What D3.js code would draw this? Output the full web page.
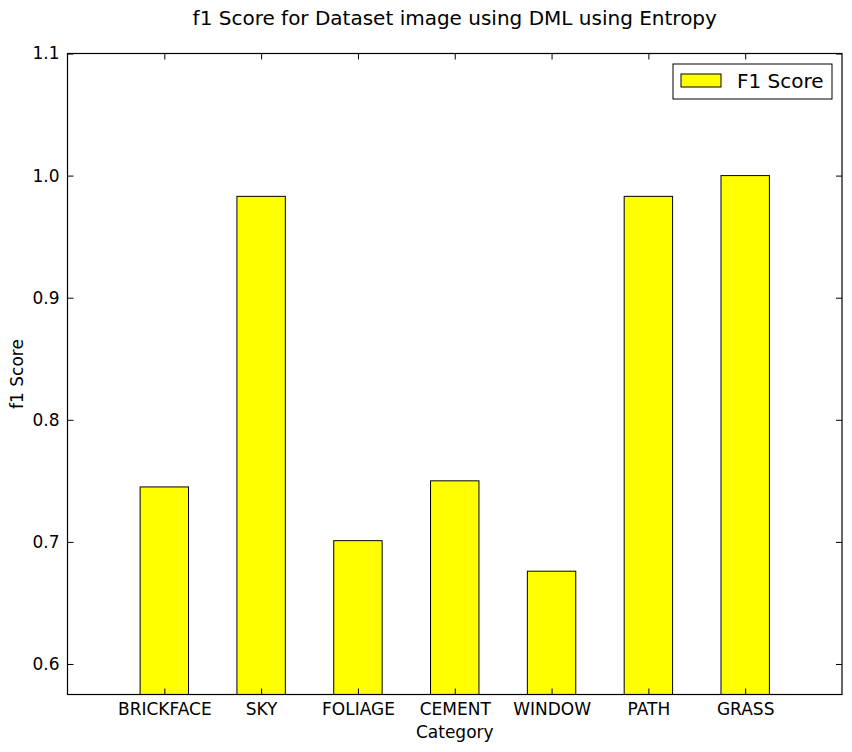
<!DOCTYPE html>
<html>
<head>
<meta charset="utf-8">
<script src="https://cdn.jsdelivr.net/npm/d3@7"></script>
<style>
  body { margin: 0; background: #fff; }
  text { font-family: "DejaVu Sans", sans-serif; fill: #000; }
</style>
</head>
<body>
<script>
const categories = ["BRICKFACE", "SKY", "FOLIAGE", "CEMENT", "WINDOW", "PATH", "GRASS"];
const f1Scores = [0.745, 0.983, 0.701, 0.750, 0.676, 0.983, 1.000];
const yTicks = [0.6, 0.7, 0.8, 0.9, 1.0, 1.1];

const width = 852;
const height = 752;
const margin = { top: 53.5, right: 10, bottom: 57.5, left: 67.5 };
const innerW = width - margin.left - margin.right;
const innerH = height - margin.top - margin.bottom;

const svg = d3.select("body")
    .append("svg")
    .attr("width", width)
    .attr("height", height);

const g = svg.append("g")
    .attr("transform", `translate(${margin.left},${margin.top})`);

// index scale, one unit per category, one unit of padding each side
const x = d3.scaleLinear()
    .domain([-1, categories.length])
    .range([0, innerW]);

const y = d3.scaleLinear()
    .domain([0.575, 1.1])
    .range([innerH, 0]);

const barWidth = x(0.5) - x(0);

// clip so bars stop at the axis bottom
g.append("clipPath").attr("id", "plot")
    .append("rect").attr("width", innerW).attr("height", innerH);

g.append("g")
    .attr("clip-path", "url(#plot)")
    .selectAll("rect")
    .data(f1Scores)
    .enter()
    .append("rect")
    .attr("x", (d, i) => x(i) - barWidth / 2)
    .attr("y", d => y(d))
    .attr("width", barWidth)
    .attr("height", d => innerH - y(d) + 2)
    .attr("fill", "#ffff00")
    .attr("stroke", "#000")
    .attr("stroke-width", 1);

// axes, classic style: ticks inward on all four sides
const tickLen = 6;
const xTickVals = categories.map((c, i) => i);

g.append("g")
    .attr("transform", `translate(0,${innerH})`)
    .call(d3.axisBottom(x).tickValues(xTickVals).tickFormat(i => categories[i])
        .tickSizeInner(-tickLen).tickSizeOuter(0).tickPadding(8))
    .call(a => a.selectAll("text").attr("font-size", 17));

g.append("g")
    .call(d3.axisTop(x).tickValues(xTickVals).tickFormat("")
        .tickSizeInner(-tickLen).tickSizeOuter(0));

g.append("g")
    .call(d3.axisLeft(y).tickValues(yTicks).tickFormat(d3.format(".1f"))
        .tickSizeInner(-tickLen).tickSizeOuter(0).tickPadding(8))
    .call(a => a.selectAll("text").attr("font-size", 17));

g.append("g")
    .attr("transform", `translate(${innerW},0)`)
    .call(d3.axisRight(y).tickValues(yTicks).tickFormat("")
        .tickSizeInner(-tickLen).tickSizeOuter(0));

g.selectAll(".domain").remove();
g.selectAll(".tick line").attr("stroke", "#000");

g.append("rect")
    .attr("width", innerW)
    .attr("height", innerH)
    .attr("fill", "none")
    .attr("stroke", "#000")
    .attr("stroke-width", 1.2);

// labels
svg.append("text")
    .attr("x", margin.left + innerW / 2)
    .attr("y", 25)
    .attr("text-anchor", "middle")
    .attr("font-size", 20)
    .text("f1 Score for Dataset image using DML using Entropy");

svg.append("text")
    .attr("x", margin.left + innerW / 2)
    .attr("y", 738)
    .attr("text-anchor", "middle")
    .attr("font-size", 17)
    .text("Category");

svg.append("text")
    .attr("transform", `translate(23,${margin.top + innerH / 2}) rotate(-90)`)
    .attr("text-anchor", "middle")
    .attr("font-size", 17)
    .text("f1 Score");

// legend
const legend = g.append("g")
    .attr("transform", `translate(${innerW - 169},${10.5})`);

legend.append("rect")
    .attr("width", 159)
    .attr("height", 35)
    .attr("fill", "#fff")
    .attr("stroke", "#000");

legend.append("rect")
    .attr("x", 8)
    .attr("y", 10)
    .attr("width", 40)
    .attr("height", 13)
    .attr("fill", "#ffff00")
    .attr("stroke", "#000");

legend.append("text")
    .attr("x", 64)
    .attr("y", 24)
    .attr("font-size", 20)
    .text("F1 Score");
</script>
</body>
</html>
